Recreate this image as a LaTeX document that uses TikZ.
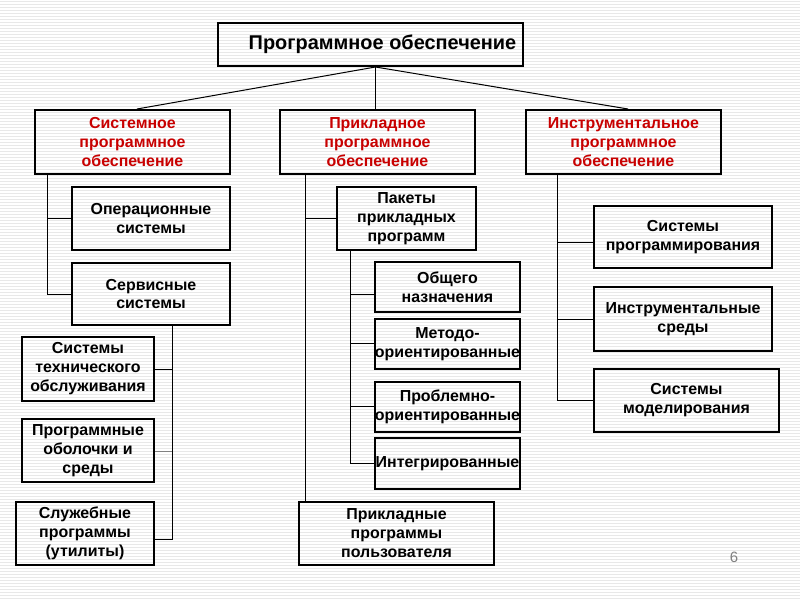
\documentclass[tikz,border=0pt]{standalone}
\usepackage{fontspec}
\setmainfont{Liberation Sans}
\usetikzlibrary{positioning}
\definecolor{headred}{RGB}{200,0,0}
\definecolor{stripe}{RGB}{232,232,232}
\definecolor{pagegray}{RGB}{128,128,128}

\begin{document}
\begin{tikzpicture}[x=1bp, y=-1bp,
  box/.style={draw, line width=2bp, align=center, inner sep=0pt,
    font=\fontsize{16}{19}\selectfont\bfseries},
  head/.style={box, text=headred, minimum width=195bp, minimum height=64bp},
  link/.style={line width=1bp}]

  % ---- background ----
  \useasboundingbox (0,0) rectangle (800,600);
  \fill[white] (0,0) rectangle (800,600);
  \foreach \y in {1.5,4.5,...,599}
    \draw[stripe, line width=1bp] (0,\y) -- (800,\y);

  % ---- root and three branches ----
  \node[box, font=\fontsize{20}{23}\selectfont\bfseries, minimum width=305bp,
        minimum height=43bp] (root) at (370.5,44.5)
    {\hspace*{24bp}Программное обеспечение};

  \node[head] (sys)  at (132.5,142) {Системное\\программное\\обеспечение};
  \node[head] (app)  at (377.5,142) {Прикладное\\программное\\обеспечение};
  \node[head] (tool) at (623.5,142) {Инструментальное\\программное\\обеспечение};

  \coordinate (hub) at ([xshift=5bp]root.south);
  \draw[link] (hub) -- ([xshift=4.5bp]sys.north);
  \draw[link] (hub) -- (hub |- app.north);
  \draw[link] (hub) -- ([xshift=4.5bp]tool.north);

  % ---- system software ----
  \node[box, minimum width=158bp, minimum height=63bp] (os)   at (151,218.5)
    {Операционные\\системы};
  \node[box, minimum width=158bp, minimum height=62bp] (serv) at (151,294)
    {Сервисные\\системы};
  \node[box, minimum width=132bp, minimum height=64bp] (tech) at (88,369)
    {Системы\\технического\\обслуживания};
  \node[box, minimum width=132bp, minimum height=63bp] (shell) at (88,450.5)
    {Программные\\оболочки и\\среды};
  \node[box, minimum width=138bp, minimum height=63bp] (util) at (85,533.5)
    {Служебные\\программы\\(утилиты)};

  \draw[link] ([xshift=13.5bp]sys.south west) |- (os.west);
  \draw[link] ([xshift=13.5bp]sys.south west) |- ([yshift=-0.5bp]serv.west);
  \draw[link] ([xshift=101.5bp]serv.south west) |- ([yshift=-0.5bp]tech.east);
  \draw[link, gray] ([xshift=101.5bp]serv.south west) |- ([yshift=-1bp]shell.east);
  \draw[link] ([xshift=101.5bp]serv.south west) |- ([yshift=-6bp]util.east);

  % ---- application software ----
  \node[box, minimum width=139bp, minimum height=63bp] (pkg) at (406.5,218.5)
    {Пакеты\\прикладных\\программ};
  \node[box, minimum width=145bp, minimum height=50bp] (gen)   at (447.5,287)
    {Общего\\назначения};
  \node[box, minimum width=145bp, minimum height=50bp] (meth)  at (447.5,344)
    {Методо-\\ориентированные};
  \node[box, minimum width=145bp, minimum height=50bp] (prob)  at (447.5,407)
    {Проблемно-\\ориентированные};
  \node[box, minimum width=145bp, minimum height=51bp] (integ) at (447.5,463.5)
    {Интегрированные};
  \node[box, minimum width=195bp, minimum height=63bp] (user)  at (396.5,533.5)
    {Прикладные\\программы\\пользователя};

  \draw[link] ([xshift=26.5bp]app.south west) |- (pkg.west);
  \draw[link] ([xshift=26.5bp]app.south west) -- ([xshift=26.5bp]app.south west |- user.north);
  \draw[link] ([xshift=14.5bp]pkg.south west) |- ([yshift=-7.5bp]gen.west);
  \draw[link] ([xshift=14.5bp]pkg.south west) |- ([yshift=0.5bp]meth.west);
  \draw[link] ([xshift=14.5bp]pkg.south west) |- ([yshift=0.5bp]prob.west);
  \draw[link] ([xshift=14.5bp]pkg.south west) |- (integ.west);

  % ---- tool software ----
  \node[box, minimum width=178bp, minimum height=62bp] (prog)  at (683,237)
    {Системы\\программирования};
  \node[box, minimum width=178bp, minimum height=64bp] (env)   at (683,319)
    {Инструментальные\\среды};
  \node[box, minimum width=185bp, minimum height=63bp] (model) at (686.5,400.5)
    {Системы\\моделирования};

  \draw[link] ([xshift=32.5bp]tool.south west) |- ([yshift=-5.5bp]prog.west);
  \draw[link] ([xshift=32.5bp]tool.south west) |- ([yshift=-0.5bp]env.west);
  \draw[link] ([xshift=32.5bp]tool.south west) |- (model.west);

  % ---- page number ----
  \node[text=pagegray, font=\fontsize{15}{18}\selectfont] (pnum) at (734,557) {6};
\end{tikzpicture}
\end{document}
